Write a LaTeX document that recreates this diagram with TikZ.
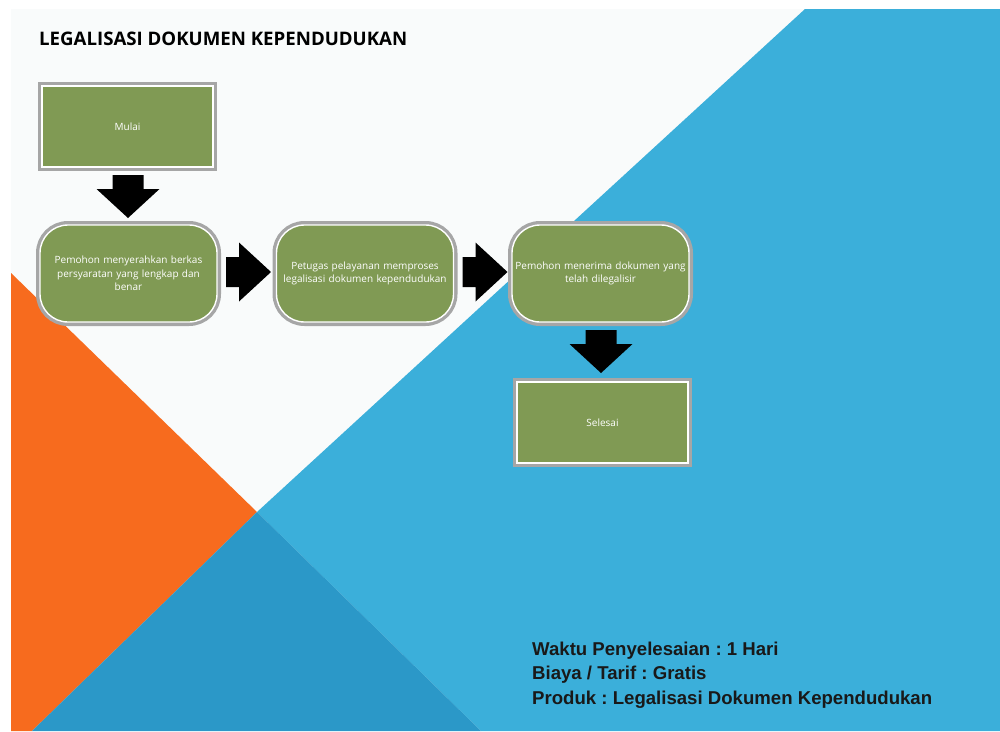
\documentclass[tikz,border=0pt]{standalone}
\usepackage{fontspec}
\setmainfont{Open Sans}
\newfontfamily\arialfont{Liberation Sans}
\usetikzlibrary{calc}
\definecolor{slidebg}{HTML}{F9FBFB}
\definecolor{lightblue}{HTML}{3BAFDA}
\definecolor{darkblue}{HTML}{2B98C8}
\definecolor{orangebg}{HTML}{F76B1E}
\definecolor{boxgreen}{HTML}{809A54}
\definecolor{boxgray}{HTML}{A6A6A6}
\frenchspacing
\begin{document}
\begin{tikzpicture}[x=1pt,y=-1pt,
  boxbase/.style={fill=boxgreen, draw=white, line width=1.4pt, outer sep=0pt, inner sep=2pt,
    preaction={draw=boxgray, line width=8pt},
    text=white, align=center, font=\fontsize{10}{13.5}\selectfont},
  squarebox/.style={boxbase, minimum width=171pt, minimum height=81pt},
  roundbox/.style={boxbase, rounded corners=28pt, minimum width=177pt, minimum height=97pt, text width=173pt},
  infotext/.style={anchor=base west, inner sep=0pt, text=black!90, font=\arialfont\bfseries\fontsize{18.6}{20}\selectfont},
  downarr/.pic={\fill[black] (-15.5,0) -- (15.5,0) -- (15.5,14) -- (31.5,14) -- (0,43) -- (-31.5,14) -- (-15.5,14) -- cycle;},
  rightarr/.pic={\fill[black] (0,-15) -- (13,-15) -- (13,-29.5) -- (45,0) -- (13,29.5) -- (13,15) -- (0,15) -- cycle;}
]
\useasboundingbox (0,0) rectangle (1000,731);
\fill[white] (0,0) rectangle (1000,731);
\fill[slidebg] (11,9) rectangle (1000,731);
\fill[lightblue] (805,9) -- (1000,9) -- (1000,731) -- (481,731) -- (257,512) -- cycle;
\fill[orangebg] (11,273) -- (257,512) -- (32,731) -- (11,731) -- cycle;
\fill[darkblue] (257,512) -- (481,731) -- (32,731) -- cycle;

\node[anchor=base west, inner sep=0pt, font=\bfseries\fontsize{18.65}{22}\selectfont] (title) at (39,45.5) {LEGALISASI DOKUMEN KEPENDUDUKAN};

\node[squarebox] (mulai) at (127.5,126.5) {Mulai};
\node[roundbox] (b1) at (128.5,273.5) {Pemohon menyerahkan berkas\\persyaratan yang lengkap dan\\benar};
\node[roundbox] (b2) at (365,273.5) {Petugas pelayanan memproses\\legalisasi dokumen kependudukan};
\node[roundbox] (b3) at (600.5,273.5) {Pemohon menerima dokumen yang\\telah dilegalisir};
\node[squarebox] (selesai) at (602.5,422.5) {Selesai};

\pic at ($(mulai.south)+(0.5,8)$) {downarr};
\pic at ($(b1.east)+(9,-1.5)$) {rightarr};
\pic at ($(b2.east)+(9,-1.5)$) {rightarr};
\pic at ($(b3.south)+(0.5,8)$) {downarr};

\node[infotext] (waktu) at (532,655) {Waktu Penyelesaian : 1 Hari};
\node[infotext] (biaya) at (532,679.5) {Biaya / Tarif : Gratis};
\node[infotext] (produk) at (532,704) {Produk : Legalisasi Dokumen Kependudukan};
\end{tikzpicture}
\end{document}
